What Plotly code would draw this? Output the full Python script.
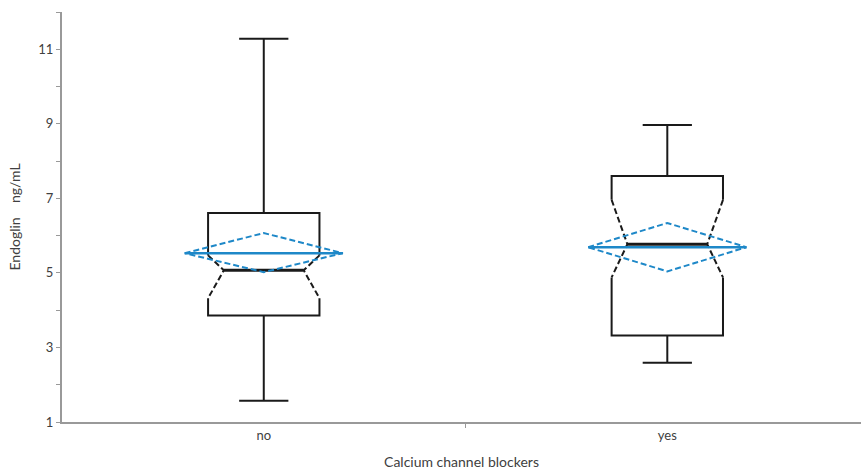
import plotly.graph_objects as go

# Endoglin (ng/mL) by calcium channel blocker use
groups = ["no", "yes"]
whisker_low = [1.57, 2.59]
q1 = [3.86, 3.32]
median = [5.07, 5.77]
q3 = [6.61, 7.60]
whisker_high = [11.28, 8.97]
notch_low = [4.32, 4.88]
notch_high = [5.47, 6.96]
mean = [5.53, 5.69]
mean_ci_low = [5.02, 5.04]
mean_ci_high = [6.07, 6.34]

BOX_HW = 0.138     # half-width of the box
NOTCH_HW = 0.099   # half-width at the notch waist
CAP_HW = 0.061     # half-width of whisker caps
MEAN_HW = 0.196    # half-width of the mean diamond

BLACK = "#1a1a1a"
BLUE = "#1e88c8"
DASH = "6px,3px"

fig = go.Figure()


def line(xs, ys, color=BLACK, width=2, dash="solid"):
    fig.add_trace(go.Scatter(x=xs, y=ys, mode="lines", showlegend=False,
                             hoverinfo="skip",
                             line=dict(color=color, width=width, dash=dash)))


for i, g in enumerate(groups):
    x = i
    l, r = x - BOX_HW, x + BOX_HW
    nl, nr = x - NOTCH_HW, x + NOTCH_HW
    # whiskers and caps
    line([x, x], [q3[i], whisker_high[i]])
    line([x - CAP_HW, x + CAP_HW], [whisker_high[i]] * 2)
    line([x, x], [q1[i], whisker_low[i]])
    line([x - CAP_HW, x + CAP_HW], [whisker_low[i]] * 2)
    # solid parts of the box outline
    line([l, l, r, r], [notch_high[i], q3[i], q3[i], notch_high[i]])
    line([l, l, r, r], [notch_low[i], q1[i], q1[i], notch_low[i]])
    # dashed notches
    line([l, nl, l], [notch_high[i], median[i], notch_low[i]], dash=DASH)
    line([r, nr, r], [notch_high[i], median[i], notch_low[i]], dash=DASH)
    # median
    line([nl, nr], [median[i]] * 2, width=3)
    # mean and its diamond
    line([x - MEAN_HW, x, x + MEAN_HW, x, x - MEAN_HW],
         [mean[i], mean_ci_high[i], mean[i], mean_ci_low[i], mean[i]],
         color=BLUE, width=2, dash=DASH)
    line([x - MEAN_HW, x + MEAN_HW], [mean[i]] * 2, color=BLUE, width=2.5)

AXIS = "#999999"
TXT = "#404040"
FONT = "Lato, 'Open Sans', sans-serif"

fig.update_layout(
    width=861, height=472,
    margin=dict(l=62, r=0, t=12, b=50),
    paper_bgcolor="white", plot_bgcolor="white",
    font=dict(family=FONT, size=13, color=TXT),
    xaxis=dict(
        range=[-0.5, 1.48], showgrid=False, zeroline=False,
        showline=True, linecolor=AXIS, linewidth=2,
        tickmode="array", tickvals=[0, 1], ticktext=groups, ticks="",
        minor=dict(tickmode="array", tickvals=[0.5], ticks="outside",
                   ticklen=4, tickcolor=AXIS, tickwidth=1),
        title=dict(text="Calcium channel blockers", standoff=16,
                   font=dict(size=14, color=TXT)),
        tickfont=dict(size=13, color=TXT),
    ),
    yaxis=dict(
        range=[1, 12], showgrid=False, zeroline=False,
        showline=True, linecolor=AXIS, linewidth=2,
        tickmode="array", tickvals=[1, 3, 5, 7, 9, 11],
        ticks="outside", ticklen=4, tickcolor=AXIS, tickwidth=1,
        minor=dict(tickmode="array", tickvals=[2, 4, 6, 8, 10, 12],
                   ticks="outside", ticklen=4, tickcolor=AXIS, tickwidth=1),
        title=dict(text="Endoglin    ng/mL", standoff=14,
                   font=dict(size=14, color=TXT)),
        tickfont=dict(size=13, color=TXT),
    ),
)

fig.write_html("out.html")
